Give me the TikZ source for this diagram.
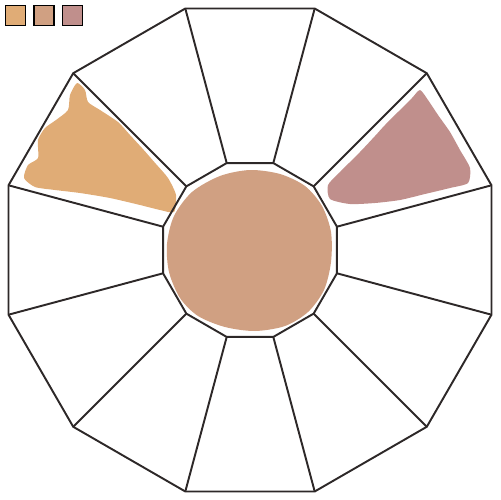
\documentclass[tikz,border=0pt]{standalone}
\usetikzlibrary{positioning}
\usetikzlibrary{calc}
\definecolor{ochre}{RGB}{224,172,118}
\definecolor{sienna}{RGB}{208,160,130}
\definecolor{mauve}{RGB}{192,143,140}
\definecolor{ink}{RGB}{45,40,40}
\tikzstyle{edge} = [draw=ink, line width=1.1pt, line join=round]
\tikzstyle{swatch} = [rectangle, draw=black, line width=0.9pt, minimum size=0.4cm, inner sep=0pt]
\tikzstyle{blob} = [draw=none]

\begin{document}
\begin{tikzpicture}[x=0.02cm, y=-0.02cm]
  \useasboundingbox (0,0) rectangle (500,500);
  % Colour swatches
  \node [swatch, fill=ochre] (s1) at (15.3,15.3) {};
  \node [swatch, fill=sienna, right=0.14cm of s1] (s2) {};
  \node [swatch, fill=mauve, right=0.14cm of s2] (s3) {};
  % Paint patches
  \fill [blob, ochre] plot [smooth cycle, tension=0.4] coordinates {(77,83) (85,90) (88,102) (100,110) (118,122) (130,135) (142,148) (156,164) (168,178) (176,195) (174,212) (160,210) (140,205) (110,198) (80,193) (55,190) (35,187) (24,178) (28,165) (38,158) (38,140) (45,128) (56,120) (68,110) (70,95)};
  \fill [blob, mauve] plot [smooth cycle, tension=0.4] coordinates {(420,90) (428,100) (438,115) (450,132) (460,150) (470,168) (468,183) (450,188) (425,194) (400,200) (375,203) (350,204) (330,199) (328,185) (340,172) (360,152) (375,136) (385,125) (400,110) (412,98)};
  \fill [blob, sienna] plot [smooth cycle] coordinates {(250,170) (280,174) (305,186) (322,206) (331,232) (331,262) (324,290) (308,312) (285,326) (255,331) (225,327) (198,316) (180,298) (169,272) (167,244) (174,216) (192,192) (220,176)};
  % Place corners
  \coordinate (c) at (250,250);
  \foreach \k in {1,...,12} {
    \coordinate (o\k) at ($(c)+({15+30*\k}:250)$);
    \coordinate (i\k) at ($(c)+({15+30*\k}:90)$);
  }
  % Draw rings and spokes
  \path [edge] (o1) \foreach \k in {2,...,12} {-- (o\k)} -- cycle;
  \path [edge] (i1) \foreach \k in {2,...,12} {-- (i\k)} -- cycle;
  \foreach \k in {1,...,12}
    \path [edge] (i\k) -- (o\k);
\end{tikzpicture}
\end{document}
